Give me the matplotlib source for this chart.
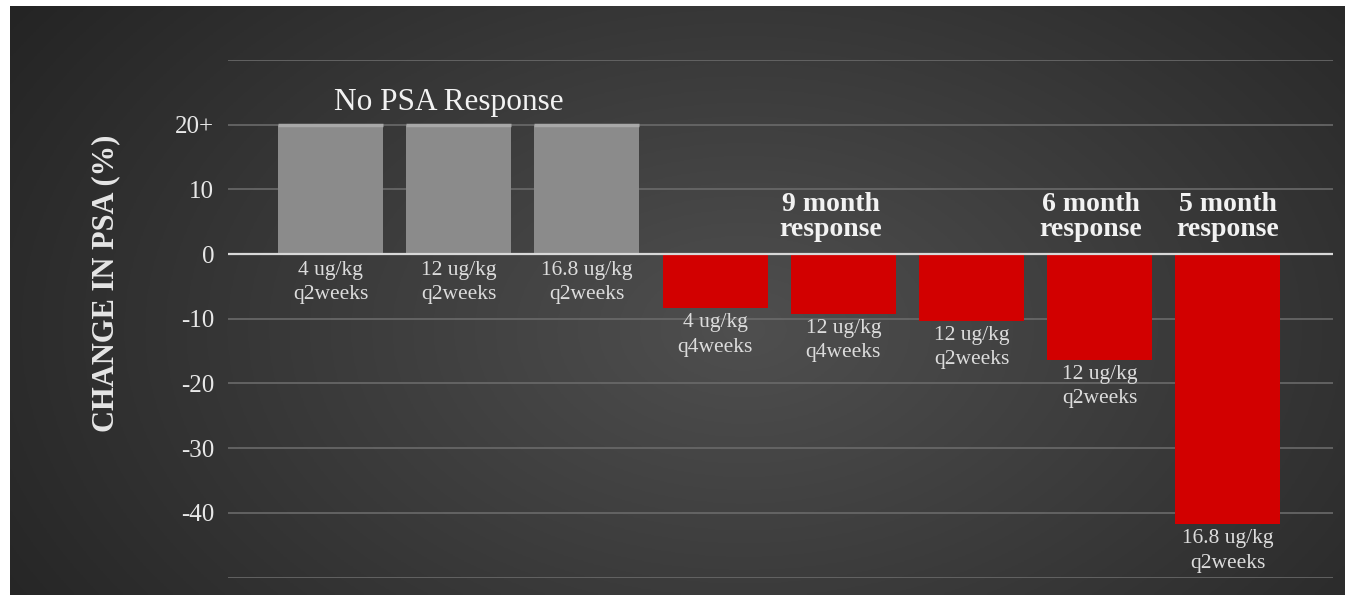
import numpy as np
import matplotlib
matplotlib.use("Agg")
import matplotlib.pyplot as plt

categories = ["4 ug/kg\nq2weeks", "12 ug/kg\nq2weeks", "16.8 ug/kg\nq2weeks",
              "4 ug/kg\nq4weeks", "12 ug/kg\nq4weeks", "12 ug/kg\nq2weeks",
              "12 ug/kg\nq2weeks", "16.8 ug/kg\nq2weeks"]
values = [20, 20, 20, -8.3, -9.2, -10.3, -16.3, -41.7]
bar_colors = ["#8b8b8b"] * 3 + ["#d20000"] * 5
yticks = [20, 10, 0, -10, -20, -30, -40]
ytick_labels = ["20+", "10", "0", "-10", "-20", "-30", "-40"]
group_notes = [(0.92, 23.5, "No PSA Response", "normal"),
               (3.9, 5.8, "9 month\nresponse", "bold"),
               (5.93, 5.8, "6 month\nresponse", "bold"),
               (7.0, 5.8, "5 month\nresponse", "bold")]

plt.rcParams['font.family'] = ['Liberation Serif', 'DejaVu Serif']

W, H = 1352, 601
fig = plt.figure(figsize=(W / 100, H / 100), dpi=100, facecolor="white")

# dark gradient panel
bg = fig.add_axes([10 / W, 1 - 595 / H, 1335 / W, 589 / H])
gx = np.linspace(0, 1, 400)
gy = np.linspace(0, 1, 200)
X, Y = np.meshgrid(gx, gy)
r = np.sqrt(((X - 0.55) / 0.75) ** 2 + ((Y - 0.45) / 1.1) ** 2)
val = 0.31 - 0.19 * np.clip(r, 0, 1.2)
img = np.dstack([val, val, val])
bg.imshow(img, aspect="auto", extent=[0, 1, 0, 1], origin="lower")
bg.set_axis_off()

ax = fig.add_axes([228 / W, 1 - 577.5 / H, (1333 - 228) / W, (577.5 - 60) / H])
ax.patch.set_alpha(0)
ax.set_xlim(-0.8, 7.82)
ax.set_ylim(-50, 30)

x = np.arange(len(categories))
for yv in [30, 20, 10, -10, -20, -30, -40, -50]:
    ax.axhline(yv, color="#6a6a6a", lw=1.2, zorder=1)
bars = ax.bar(x, values, width=0.82, color=bar_colors, zorder=2)
# light top edge on the grey bars
for xi, v in zip(x, values):
    if v > 0:
        ax.plot([xi - 0.41, xi + 0.41], [v, v], color="#a8a8a8", lw=2.5, zorder=3,
                solid_capstyle="butt")
ax.axhline(0, color="#d8d8d8", lw=1.6, zorder=3)

for spine in ax.spines.values():
    spine.set_visible(False)
ax.set_xticks([])
ax.set_yticks(yticks)
ax.set_yticklabels(ytick_labels)
ax.tick_params(axis="y", length=0, pad=10, labelsize=18, labelcolor="#e8e8e8")

for xi, v, lab in zip(x, values, categories):
    ytxt = -1.0 if v > 0 else v - 0.8
    ax.text(xi, ytxt, lab, ha="center", va="top", fontsize=15.5,
            color="#dcdcdc", linespacing=1.4, zorder=4)

for xi, yv, txt, wt in group_notes:
    ax.text(xi, yv, txt, ha="center", va="center", fontsize=22.5 if wt == "normal" else 20,
            fontweight=wt, color="#f2f2f2", linespacing=1.0, zorder=4)

fig.text(106 / W, 1 - 283 / H, "CHANGE IN PSA (%)", rotation=90, ha="center", va="center",
         fontsize=22, fontweight="bold", color="#e6e6e6")

fig.savefig("out.png", dpi=100, facecolor="white")
